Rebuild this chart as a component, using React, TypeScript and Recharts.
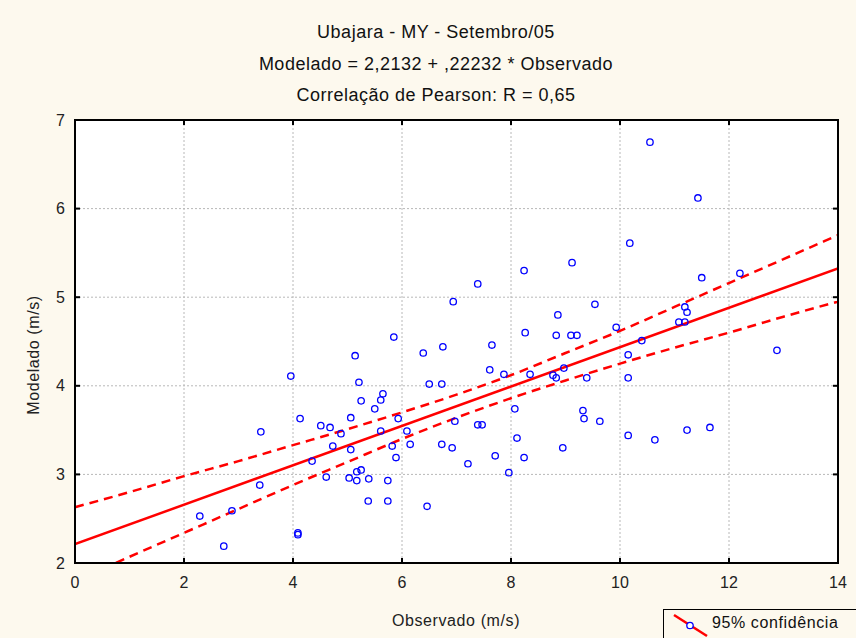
import React from 'react';
import { ComposedChart, Scatter, Line, XAxis, YAxis, CartesianGrid, ReferenceArea } from 'recharts';

const observado = [
  10.55, 11.43, 10.18, 9.12, 8.24, 7.39, 6.94, 9.54, 8.86, 8.26, 8.83, 9.1, 9.21, 9.93,
  11.19, 11.23, 11.08, 11.19, 11.5, 12.2, 7.65, 6.75, 10.4, 12.88, 7.61, 7.87, 8.35, 8.77,
  8.83, 8.97, 9.39, 10.15, 10.15, 6.73, 8.07, 6.97, 7.39, 7.47, 9.32, 9.34, 9.63, 6.73,
  6.92, 8.11, 8.95, 10.15, 10.64, 11.23, 11.65, 7.71, 8.24, 7.21, 7.96, 5.85, 6.39, 5.14,
  6.5, 3.96, 5.21, 5.65, 5.61, 5.25, 5.5, 5.93, 5.06, 4.13, 4.51, 4.68, 4.88, 5.61, 6.09,
  6.15, 4.73, 5.82, 5.06, 5.89, 4.35, 3.41, 5.25, 5.17, 5.03, 5.17, 5.39, 5.74, 4.61,
  3.39, 5.38, 5.74, 6.46, 2.29, 2.88, 4.09, 4.09, 2.73,
];
const modelado = [
  6.75, 6.12, 5.61, 5.39, 5.3, 5.15, 4.95, 4.92, 4.8, 4.6, 4.57, 4.57, 4.57, 4.66,
  4.89, 4.83, 4.72, 4.72, 5.22, 5.27, 4.46, 4.44, 4.51, 4.4, 4.18, 4.13, 4.13, 4.12,
  4.09, 4.2, 4.09, 4.35, 4.09, 4.02, 3.74, 3.6, 3.56, 3.56, 3.72, 3.63, 3.6, 3.34,
  3.3, 3.41, 3.3, 3.44, 3.39, 3.5, 3.53, 3.21, 3.19, 3.12, 3.02, 4.55, 4.37, 4.34,
  4.02, 4.11, 4.04, 3.91, 3.84, 3.83, 3.74, 3.63, 3.64, 3.63, 3.55, 3.53, 3.46, 3.49, 3.49,
  3.34, 3.32, 3.32, 3.28, 3.19, 3.15, 3.48, 3.05, 3.03, 2.96, 2.93, 2.95, 2.93, 2.97,
  2.88, 2.7, 2.7, 2.64, 2.53, 2.59, 2.34, 2.32, 2.19,
];

// fitted line end points
const fitX = [0, 14];
const fitY = [2.2132, 5.3257];

// 95% confidence band, read at each integer x
const bandX = [0, 1, 2, 3, 4, 5, 6, 7, 8, 9, 10, 11, 12, 13, 14];
const bandUpper = [2.63, 2.8, 2.98, 3.15, 3.33, 3.51, 3.7, 3.9, 4.12, 4.37, 4.62, 4.89, 5.16, 5.43, 5.7];
const bandLower = [1.79, 2.07, 2.34, 2.61, 2.88, 3.14, 3.4, 3.64, 3.86, 4.06, 4.25, 4.43, 4.6, 4.78, 4.95];

const xTicks = [0, 2, 4, 6, 8, 10, 12, 14];
const yTicks = [2, 3, 4, 5, 6, 7];

const points = observado.map((x, i) => ({ x, y: modelado[i] }));
const fitLine = fitX.map((x, i) => ({ x, y: fitY[i] }));
const upperBand = bandX.map((x, i) => ({ x, y: bandUpper[i] }));
const lowerBand = bandX.map((x, i) => ({ x, y: bandLower[i] }));

const FONT = '"Liberation Sans", Arial, sans-serif';
const BG = '#fdf9ee';

const Circle = (p: any) => (
  <circle cx={p.cx} cy={p.cy} r={3.2} fill="none" stroke="#0000ff" strokeWidth={1.3} />
);

// top/right frame axes only show tick marks
const NoLabel = () => <g />;

const titleStyle: React.CSSProperties = {
  position: 'absolute',
  left: 236,
  width: 400,
  textAlign: 'center',
  fontFamily: FONT,
  fontSize: 18,
  letterSpacing: 0.5,
  color: '#111',
  lineHeight: '20px',
};

const axisStroke = { stroke: '#000', strokeWidth: 2 };

export default function App() {
  return (
    <div style={{ position: 'absolute', left: 0, top: 0, width: 856, height: 638, background: BG, overflow: 'hidden' }}>
      <div style={{ ...titleStyle, top: 22 }}>Ubajara - MY - Setembro/05</div>
      <div style={{ ...titleStyle, top: 54 }}>Modelado = 2,2132 + ,22232 * Observado</div>
      <div style={{ ...titleStyle, top: 85 }}>Correlação de Pearson: R = 0,65</div>

      <ComposedChart
        width={856}
        height={638}
        margin={{ top: 119, right: 17, left: 25, bottom: 25 }}
        style={{ fontFamily: FONT }}
      >
        <CartesianGrid fill="#ffffff" stroke="#b8b8b8" strokeDasharray="2 2" />
        <XAxis
          dataKey="x"
          type="number"
          domain={[0, 14]}
          ticks={xTicks}
          allowDataOverflow
          height={50}
          axisLine={axisStroke}
          tickLine={axisStroke}
          tickSize={-5}
          tickMargin={19}
          tick={{ fill: '#222', fontSize: 16 }}
          label={{
            content: () => (
              <text x={456} y={626} textAnchor="middle" fontSize={16} fill="#222" letterSpacing={0.6}>
                Observado (m/s)
              </text>
            ),
          }}
        />
        <XAxis
          xAxisId="top"
          dataKey="x"
          orientation="top"
          type="number"
          domain={[0, 14]}
          ticks={xTicks}
          allowDataOverflow
          height={1}
          axisLine={axisStroke}
          tickLine={axisStroke}
          tickSize={-5}
          tick={NoLabel}
        />
        <YAxis
          dataKey="y"
          type="number"
          domain={[2, 7]}
          ticks={yTicks}
          allowDataOverflow
          width={50}
          axisLine={axisStroke}
          tickLine={axisStroke}
          tickSize={-5}
          tickMargin={15}
          tick={{ fill: '#222', fontSize: 16 }}
          label={{
            content: () => (
              <text
                x={39}
                y={355}
                textAnchor="middle"
                fontSize={16}
                fill="#222"
                letterSpacing={0.6}
                transform="rotate(-90 39 355)"
              >
                Modelado (m/s)
              </text>
            ),
          }}
        />
        <YAxis
          yAxisId="right"
          dataKey="y"
          orientation="right"
          type="number"
          domain={[2, 7]}
          ticks={yTicks}
          allowDataOverflow
          width={1}
          axisLine={axisStroke}
          tickLine={axisStroke}
          tickSize={-5}
          tick={NoLabel}
        />
        <Scatter data={points} dataKey="y" shape={Circle} isAnimationActive={false} />
        <Line data={fitLine} dataKey="y" type="linear" stroke="#ff0000" strokeWidth={2.5} dot={false} isAnimationActive={false} />
        <Line data={upperBand} dataKey="y" type="monotone" stroke="#ff0000" strokeWidth={2.5} strokeDasharray="9 6" dot={false} isAnimationActive={false} />
        <Line data={lowerBand} dataKey="y" type="monotone" stroke="#ff0000" strokeWidth={2.5} strokeDasharray="9 6" dot={false} isAnimationActive={false} />
        {/* invisible copy so the top and right frame axes get drawn */}
        <Line data={fitLine} xAxisId="top" yAxisId="right" dataKey="y" stroke="none" dot={false} legendType="none" isAnimationActive={false} />
        <ReferenceArea x1={0} x2={14} y1={2} y2={7} fill="none" stroke="#000" strokeWidth={2} ifOverflow="visible" />
      </ComposedChart>

      <div
        style={{
          position: 'absolute',
          left: 663,
          top: 609,
          width: 210,
          height: 40,
          border: '1.5px solid #000',
          boxSizing: 'border-box',
          background: BG,
          fontFamily: FONT,
        }}
      >
        <svg width={40} height={30} style={{ position: 'absolute', left: 8, top: 2 }}>
          <line x1={2} y1={3} x2={35} y2={24} stroke="#ff0000" strokeWidth={2.5} />
          <circle cx={18} cy={13.5} r={3.2} fill="#fff" stroke="#0000ff" strokeWidth={1.3} />
        </svg>
        <span style={{ position: 'absolute', left: 48, top: 4, fontSize: 16, color: '#111', letterSpacing: 0.6, whiteSpace: 'nowrap' }}>
          95% confidência
        </span>
      </div>
    </div>
  );
}
